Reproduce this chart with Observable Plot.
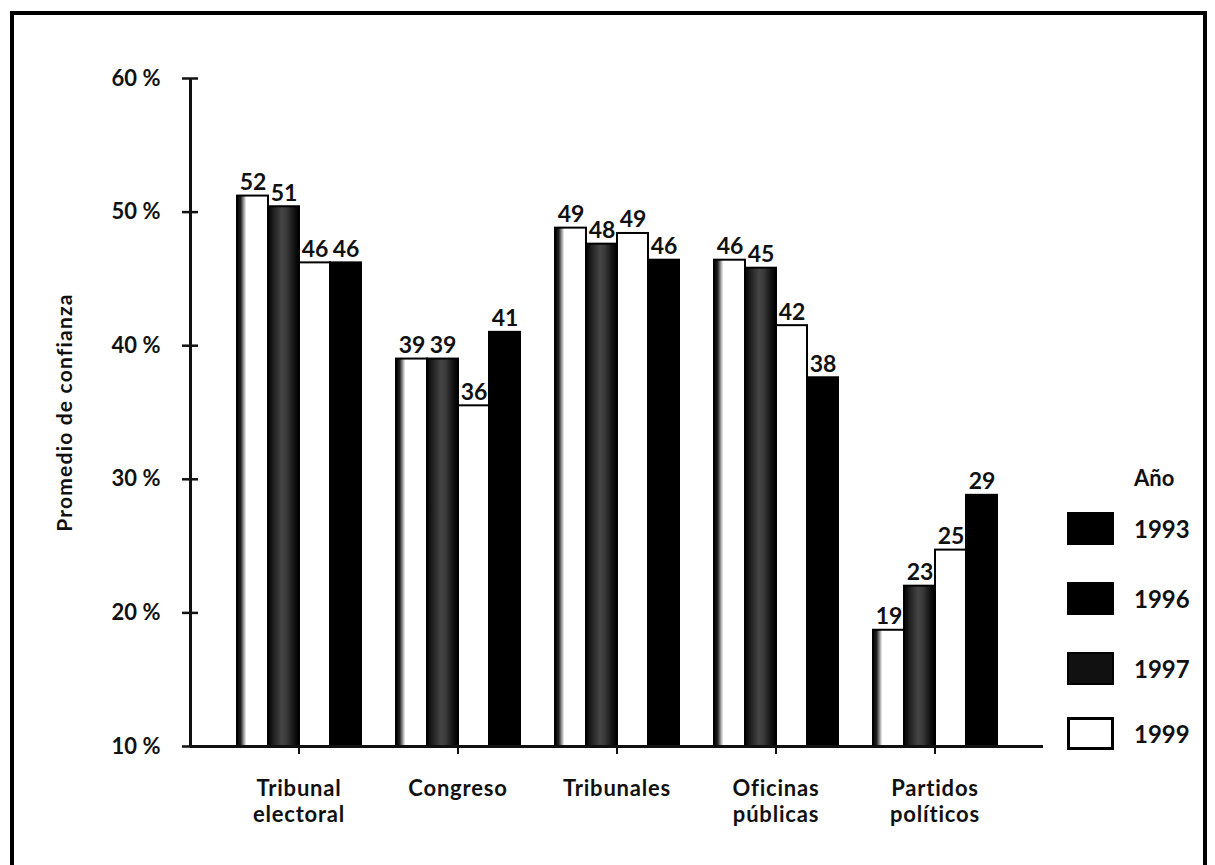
<!DOCTYPE html>
<html><head><meta charset="utf-8">
<script src="https://cdn.jsdelivr.net/npm/d3@7"></script>
<script src="https://cdn.jsdelivr.net/npm/@observablehq/plot@0.6"></script>
<style>
body{margin:0;background:#fff;width:1215px;height:865px;overflow:hidden;position:relative;font-family:Lato,sans-serif;color:#111}
#chart{position:absolute;left:0;top:0}
#border{position:absolute;left:10px;top:11px;width:1197px;height:900px;border:4px solid #000;border-bottom:none;box-sizing:border-box;z-index:5;pointer-events:none}
#legend{position:absolute;left:1067px;top:0;z-index:4}
.sw{position:absolute;left:0;width:47px;height:33px;box-sizing:border-box;border:2px solid #000}
.lb{position:absolute;left:67px;font-size:24px;font-weight:bold;line-height:33px}
</style></head><body>
<div id="chart"></div><div id="legend"></div><div id="border"></div>
<script>
// ---- data ----
const categories = ["Tribunal\nelectoral", "Congreso", "Tribunales", "Oficinas\npúblicas", "Partidos\npolíticos"];
const years = ["1993", "1996", "1997", "1999"];
// bar heights (%)
const v1993 = [51.2, 39.0, 48.8, 46.4, 18.7];
const v1996 = [50.4, 39.0, 47.6, 45.8, 22.0];
const v1997 = [46.2, 35.5, 48.4, 41.5, 24.7];
const v1999 = [46.2, 41.0, 46.4, 37.6, 28.8];
// printed value labels
const l1993 = [52, 39, 49, 46, 19];
const l1996 = [51, 39, 48, 45, 23];
const l1997 = [46, 36, 49, 42, 25];
const l1999 = [46, 41, 46, 38, 29];
const yTicks = [10, 20, 30, 40, 50, 60];
const yBase = 10;
const yTop = 60;
const yLabel = "Promedio de confianza";
const legendTitle = "Año";
const legendYears = ["1993", "1996", "1997", "1999"];

// ---- table ----
const values = [v1993, v1996, v1997, v1999];
const labels = [l1993, l1996, l1997, l1999];
const data = [];
years.forEach((yr, j) => categories.forEach((c, i) => data.push({category: c, year: yr, value: values[j][i], label: labels[j][i]})));

const marginLeft = 190;
const base = {
  width: 1215, height: 865,
  marginLeft, marginRight: 172, marginTop: 78, marginBottom: 119,
  style: {fontFamily: "Lato, sans-serif", fontSize: "20px", color: "#111", background: "transparent", overflow: "visible"},
  fx: {domain: categories, paddingInner: 0.2, paddingOuter: 0.275, label: null},
  x: {domain: years, padding: 0, axis: null},
  y: {domain: [yBase, yTop], axis: null},
  color: {domain: years, range: ["url(#g1993)", "url(#g1996)", "#ffffff", "#000000"]}
};
const bars = Plot.barY(data, {fx: "category", x: "year", y1: yBase, y2: "value", fill: "year", stroke: "#000", strokeWidth: 2});

// the y axis lives in the leftmost facet; shift it back to the frame's left edge
const probe = Plot.plot({...base, marks: [bars]});
const fxScale = probe.scale("fx");
const shift = fxScale.apply(categories[0]) - marginLeft;
const half = fxScale.bandwidth / 2;
const first = [categories[0]];

const plot = Plot.plot({
  ...base,
  marks: [
    bars,
    Plot.text(data, {fx: "category", x: "year", y: "value", text: "label", lineAnchor: "bottom", dy: -6, fontSize: 23, fontWeight: "bold", fill: "#111"}),
    // baseline (x axis line) spanning the whole frame
    Plot.ruleY([yBase], {insetLeft: -shift, insetRight: -shift, strokeWidth: 3}),
    // y axis line
    Plot.ruleX(first, {fx: d => d, x: null, y1: yBase, y2: yTop, dx: -(half + shift), strokeWidth: 3}),
    Plot.axisY({ticks: yTicks, tickSize: 16, dx: 8 - shift, text: null, label: null, strokeWidth: 2.5}),
    Plot.axisY({ticks: yTicks, tickSize: 0, tickPadding: 30, dx: -shift, tickFormat: d => d + " %", fontSize: 22, fontWeight: "bold", label: null}),
    Plot.text(first, {fx: d => d, text: () => yLabel, frameAnchor: "left", textAnchor: "middle", rotate: -90, dx: -(shift + 125), fontSize: 21, fontWeight: "bold", fill: "#111"}),
    Plot.axisFx({anchor: "bottom", tickSize: 8, tickPadding: 24, fontSize: 22, fontWeight: "bold", lineHeight: 1.15, label: null, strokeWidth: 2})
  ]
});

const defs = d3.select(plot).insert("defs", ":first-child");
const g1 = defs.append("linearGradient").attr("id", "g1993");
[[0, "#000"], [0.12, "#222"], [0.3, "#fff"], [1, "#fff"]].forEach(([o, c]) => g1.append("stop").attr("offset", o).attr("stop-color", c));
const g2 = defs.append("linearGradient").attr("id", "g1996");
[[0, "#000"], [0.15, "#1c1c1c"], [0.45, "#454545"], [0.6, "#3a3a3a"], [0.85, "#111"], [1, "#000"]].forEach(([o, c]) => g2.append("stop").attr("offset", o).attr("stop-color", c));

// slightly wider letter spacing for the humanist-style labels
d3.select(plot).selectAll("text").filter(function() { return this.textContent === yLabel; }).attr("letter-spacing", "1.2px");
d3.select(plot).selectAll("text").filter(function() {
  const t = this.textContent.replace(/\s+/g, "");
  return categories.some(c => c.replace(/\s+/g, "") === t);
}).attr("letter-spacing", "0.8px");

document.getElementById("chart").appendChild(plot);

// ---- legend ----
const legend = d3.select("#legend");
legend.append("div").attr("class", "lb").style("top", "461px").style("font-size", "22px").text(legendTitle);
const swTops = [512, 582, 652, 717];
const swFills = ["#000", "#000", "#111", "#fff"];
legendYears.forEach((yr, i) => {
  legend.append("div").attr("class", "sw").style("top", swTops[i] + "px").style("background", swFills[i]).style("border-width", i === 3 ? "3px" : "2px");
  legend.append("div").attr("class", "lb").style("top", swTops[i] + "px").text(yr);
});
</script>
</body></html>
